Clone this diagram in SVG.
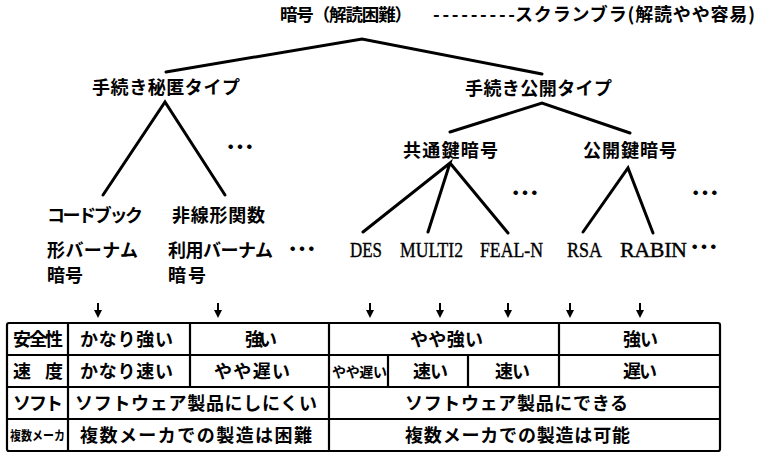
<svg xmlns="http://www.w3.org/2000/svg" width="758" height="455" viewBox="0 0 758 455">
<defs>
<style>
.t{font-family:"Noto Sans CJK JP","Noto Sans CJK SC",sans-serif;font-weight:700;font-size:18px;fill:#000}
.s{font-family:"Noto Sans CJK JP",sans-serif;font-weight:700;fill:#000}
.d{font-family:"Noto Sans CJK JP",sans-serif;font-weight:700;font-size:28px;fill:#000}
.r{font-family:"Liberation Serif","Times New Roman",serif;font-size:22px;fill:#000;stroke:#000;stroke-width:0.4}
.ln{stroke:#000;stroke-width:3;fill:none;stroke-linecap:round}
.ar{stroke:#000;stroke-width:2;fill:none}
.tb{stroke:#000;stroke-width:2.2;fill:none}
</style>
</defs>
<rect width="758" height="455" fill="#fff"/>

<g id="connectors">
<path class="ln" d="M166,72 L362,39 L542,74"/>
<path class="ln" d="M103,195 L165,102 L225,195"/>
<path class="ln" d="M450,132 L542,103 L630,133"/>
<path class="ln" d="M363,232 L450,163 L428,232 M450,163 L508,233"/>
<path class="ln" d="M583,232 L628,168 L653,233"/>
<g id="arrows">
<path d="M98,303 V311" class="ar"/><path d="M94,310 H102 L98,318 Z"/>
<path d="M218,303 V311" class="ar"/><path d="M214,310 H222 L218,318 Z"/>
<path d="M370,303 V311" class="ar"/><path d="M366,310 H374 L370,318 Z"/>
<path d="M440,303 V311" class="ar"/><path d="M436,310 H444 L440,318 Z"/>
<path d="M508,303 V311" class="ar"/><path d="M504,310 H512 L508,318 Z"/>
<path d="M570,303 V311" class="ar"/><path d="M566,310 H574 L570,318 Z"/>
<path d="M640,303 V311" class="ar"/><path d="M636,310 H644 L640,318 Z"/>
</g>
</g>

<g id="root">
<text class="s" x="280" y="21" font-size="17.5" textLength="132">暗号（解読困難）</text>
<text class="s" x="433" y="21" font-size="18" textLength="82">---------</text>
<text class="s" x="515" y="21" font-size="18" textLength="240">スクランブラ(解読やや容易)</text>
</g>

<g id="secret-type"><text class="t" x="92" y="94" textLength="148">手続き秘匿タイプ</text></g>
<g id="public-type"><text class="t" x="465" y="95" textLength="147">手続き公開タイプ</text></g>
<g id="common-key"><text class="t" x="403" y="157" textLength="95">共通鍵暗号</text></g>
<g id="public-key"><text class="t" x="583" y="157" textLength="94">公開鍵暗号</text></g>

<g id="more-secret"><text class="d" x="226" y="158" textLength="25">…</text></g>
<g id="more-common"><text class="d" x="511" y="204" textLength="25">…</text></g>
<g id="more-public"><text class="d" x="691" y="204" textLength="25">…</text></g>

<g id="codebook">
<text class="t" x="47" y="222" textLength="96">コードブック</text>
<text class="t" x="47" y="257" textLength="91">形バーナム</text>
<text class="t" x="47" y="282" textLength="36">暗号</text>
</g>
<g id="nonlinear">
<text class="t" x="172" y="222" textLength="93">非線形関数</text>
<text class="t" x="168" y="257" textLength="105">利用バーナム</text>
<text class="d" x="288" y="260" textLength="29">…</text>
<text class="t" x="168" y="282" textLength="38">暗号</text>
</g>

<g id="des"><text class="r" x="350" y="257" textLength="32" lengthAdjust="spacingAndGlyphs">DES</text></g>
<g id="multi2"><text class="r" x="400" y="257" textLength="63" lengthAdjust="spacingAndGlyphs">MULTI2</text></g>
<g id="feal"><text class="r" x="480" y="257" textLength="63" lengthAdjust="spacingAndGlyphs">FEAL-N</text></g>
<g id="rsa"><text class="r" x="567" y="257" textLength="35" lengthAdjust="spacingAndGlyphs">RSA</text></g>
<g id="rabin">
<text class="r" x="620" y="257" textLength="67">RABIN</text>
<text class="d" x="690" y="258" textLength="27">…</text>
</g>

<g id="table">
<rect x="7" y="323" width="713" height="128" rx="2" class="tb" stroke-width="2.8"/>
<path class="tb" d="M7,355 H720 M7,387 H720 M7,419 H720 M68,323 V451 M190,323 V387 M329,323 V451 M559,323 V387 M388,355 V387 M468,355 V387"/>
<text class="t" x="13" y="346" textLength="50">安全性</text>
<text class="t" x="80" y="346" textLength="93">かなり強い</text>
<text class="t" x="245" y="346" textLength="32">強い</text>
<text class="t" x="410" y="346" textLength="73">やや強い</text>
<text class="t" x="623" y="346" textLength="35">強い</text>

<text class="t" x="13" y="378">速</text>
<text class="t" x="45" y="378">度</text>
<text class="t" x="80" y="378" textLength="93">かなり速い</text>
<text class="t" x="214" y="378" textLength="76">やや遅い</text>
<text class="s" x="332" y="377" font-size="14" textLength="55">やや遅い</text>
<text class="t" x="413" y="378" textLength="35">速い</text>
<text class="t" x="495" y="378" textLength="35">速い</text>
<text class="t" x="623" y="378" textLength="34">遅い</text>

<text class="t" x="13" y="410" textLength="50">ソフト</text>
<text class="t" x="75" y="410" textLength="242">ソフトウェア製品にしにくい</text>
<text class="t" x="405" y="410" textLength="223">ソフトウェア製品にできる</text>

<text class="s" x="10" y="440" font-size="13" textLength="55" lengthAdjust="spacingAndGlyphs">複数メーカ</text>
<text class="t" x="80" y="442" textLength="232">複数メーカでの製造は困難</text>
<text class="t" x="405" y="442" textLength="225">複数メーカでの製造は可能</text>
</g>
</svg>
